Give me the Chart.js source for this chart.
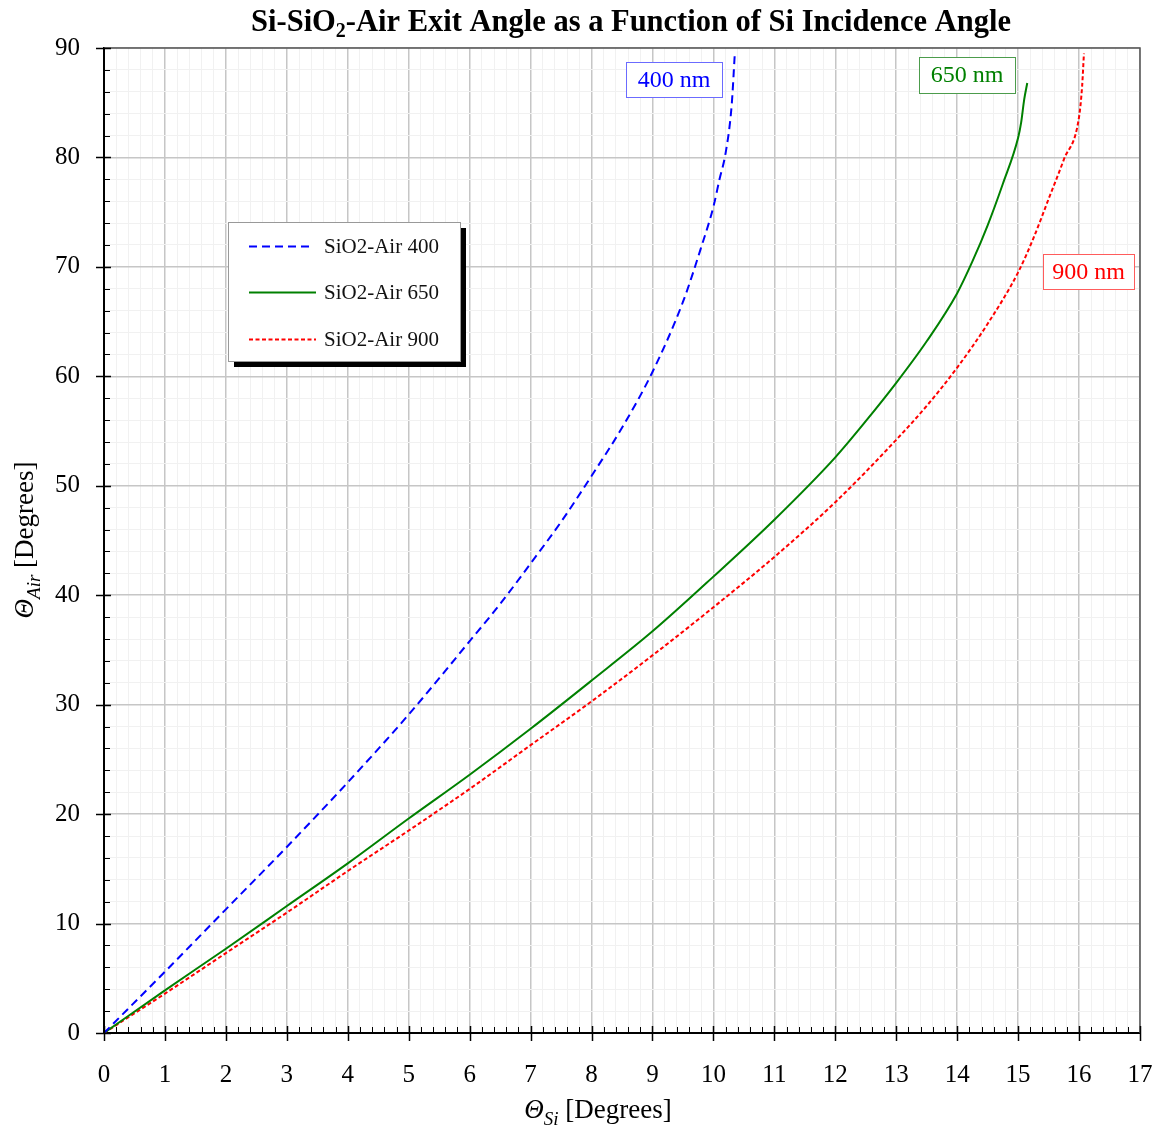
<!DOCTYPE html>
<html>
<head>
<meta charset="utf-8">
<script src="https://cdn.jsdelivr.net/npm/chart.js@4/dist/chart.umd.min.js"></script>
<style>
  html, body { margin: 0; padding: 0; background: #fff; }
  #wrap { width: 1163px; height: 1129px; }
</style>
</head>
<body>
<div id="wrap"><canvas id="c" width="1163" height="1129"></canvas></div>
<script>
// Si incidence angle (deg) and resulting air exit angle (deg), per wavelength
const siAngle400 = [0, 1, 2, 3, 4, 5, 6, 6.5, 7, 7.5, 8, 8.5, 9, 9.5, 9.8, 10, 10.1, 10.2, 10.3, 10.35];
const airAngle400 = [0, 5.6, 11.3, 17.0, 22.9, 29.1, 35.8, 39.2, 42.9, 46.7, 50.9, 55.3, 60.4, 66.8, 71.8, 75.5, 78.0, 80.4, 84.8, 89.4];

const siAngle650 = [0, 1, 2, 3, 4, 5, 6, 7, 8, 9, 10, 11, 12, 12.5, 13, 13.5, 14, 14.25, 14.5, 14.75, 15, 15.05, 15.1, 15.15];
const airAngle650 = [0, 3.9, 7.7, 11.6, 15.5, 19.6, 23.6, 27.8, 32.2, 36.7, 41.7, 46.9, 52.6, 55.9, 59.4, 63.2, 67.6, 70.5, 73.8, 77.6, 81.8, 83.2, 85.3, 86.8];

const siAngle900 = [0, 1, 2, 3, 4, 5, 6, 7, 8, 9, 10, 11, 12, 13, 13.5, 14, 14.5, 15, 15.25, 15.5, 15.75, 16, 16.05, 16.08];
const airAngle900 = [0, 3.6, 7.3, 11.0, 14.8, 18.5, 22.3, 26.3, 30.3, 34.5, 38.9, 43.5, 48.5, 54.2, 57.3, 60.8, 64.8, 69.5, 72.6, 76.2, 79.8, 83.7, 86.5, 89.5];

const seriesNames = ['SiO2-Air 400', 'SiO2-Air 650', 'SiO2-Air 900'];
const curveTags = ['400 nm', '650 nm', '900 nm'];

const X_MIN = 0, X_MAX = 17, X_STEP = 0.2;
const Y_MIN = 0, Y_MAX = 90, Y_STEP = 2;

const pts = (xs, ys) => xs.map((x, i) => ({ x: x, y: ys[i] }));
const isWhole = (v, unit) => Math.abs(v / unit - Math.round(v / unit)) < 1e-6;

const SERIF = '"Liberation Serif", "Times New Roman", serif';

// draw a run of text pieces (with sub-scripts) centred on x
function drawRun(ctx, parts, cx, cy) {
  let total = 0;
  parts.forEach(p => { ctx.font = p.font; p.w = ctx.measureText(p.text).width; total += p.w; });
  let x = cx - total / 2;
  ctx.textAlign = 'left';
  ctx.textBaseline = 'alphabetic';
  parts.forEach(p => {
    ctx.font = p.font;
    ctx.fillStyle = p.color || '#000';
    ctx.fillText(p.text, x, cy + (p.dy || 0));
    x += p.w;
  });
}

const decor = {
  id: 'decor',
  beforeDraw(chart) {
    const ctx = chart.ctx;
    ctx.save();
    ctx.fillStyle = '#fff';
    ctx.fillRect(0, 0, chart.width, chart.height);
    ctx.restore();
  },
  afterDraw(chart) {
    const ctx = chart.ctx;
    const a = chart.chartArea;
    const xs = chart.scales.x, ys = chart.scales.y;
    ctx.save();

    // frame on top and right
    ctx.strokeStyle = '#555';
    ctx.lineWidth = 1.5;
    ctx.beginPath();
    ctx.moveTo(a.left, a.top); ctx.lineTo(a.right, a.top); ctx.lineTo(a.right, a.bottom);
    ctx.stroke();

    // tick marks
    ctx.strokeStyle = '#000';
    for (let v = X_MIN; v <= X_MAX + 1e-9; v += X_STEP) {
      const px = Math.round(xs.getPixelForValue(v)) + 0.5;
      ctx.beginPath();
      if (isWhole(v, 1)) { ctx.lineWidth = 1.5; ctx.moveTo(px, a.bottom - 7); ctx.lineTo(px, a.bottom + 8); }
      else { ctx.lineWidth = 1; ctx.moveTo(px, a.bottom); ctx.lineTo(px, a.bottom - 6); }
      ctx.stroke();
    }
    for (let v = Y_MIN; v <= Y_MAX + 1e-9; v += Y_STEP) {
      const py = Math.round(ys.getPixelForValue(v)) + 0.5;
      ctx.beginPath();
      if (isWhole(v, 10)) { ctx.lineWidth = 1.5; ctx.moveTo(a.left - 8, py); ctx.lineTo(a.left + 7, py); }
      else { ctx.lineWidth = 1; ctx.moveTo(a.left, py); ctx.lineTo(a.left + 6, py); }
      ctx.stroke();
    }

    // legend box with drop shadow
    const lx = 228, ly = 222, lw = 232, lh = 139;
    ctx.fillStyle = '#000';
    ctx.fillRect(lx + 6, ly + 6, lw, lh);
    ctx.fillStyle = '#fff';
    ctx.fillRect(lx, ly, lw, lh);
    ctx.strokeStyle = '#999';
    ctx.lineWidth = 1;
    ctx.strokeRect(lx + 0.5, ly + 0.5, lw, lh);
    const rows = [246, 292, 339];
    chart.data.datasets.forEach((ds, i) => {
      ctx.strokeStyle = ds.borderColor;
      ctx.lineWidth = 2;
      ctx.setLineDash(ds.borderDash || []);
      ctx.beginPath();
      ctx.moveTo(249, rows[i] + 0.5);
      ctx.lineTo(i === 0 ? 312 : 316, rows[i] + 0.5);
      ctx.stroke();
      ctx.setLineDash([]);
      ctx.fillStyle = '#111';
      ctx.font = '21px ' + SERIF;
      ctx.textAlign = 'left';
      ctx.textBaseline = 'middle';
      ctx.fillText(ds.label, 324, rows[i] + 1);
    });

    // wavelength tags near the curve ends
    const tags = [
      { box: [626, 62, 96, 35], color: '#0000ff', edge: '#6b6bff' },
      { box: [919, 57, 96, 36], color: '#008000', edge: '#4c9c4c' },
      { box: [1043, 254, 91, 35], color: '#ff0000', edge: '#ff5c5c' }
    ];
    tags.forEach((t, i) => {
      const [bx, by, bw, bh] = t.box;
      ctx.fillStyle = '#fff';
      ctx.fillRect(bx, by, bw, bh);
      ctx.strokeStyle = t.edge;
      ctx.lineWidth = 1;
      ctx.strokeRect(bx + 0.5, by + 0.5, bw, bh);
      ctx.fillStyle = t.color;
      ctx.font = '24px ' + SERIF;
      ctx.textAlign = 'center';
      ctx.textBaseline = 'middle';
      ctx.fillText(curveTags[i], bx + bw / 2, by + bh / 2 + 1);
    });

    // chart title
    const tf = 'bold 30.5px ' + SERIF, tfs = 'bold 20px ' + SERIF;
    drawRun(ctx, [
      { text: 'Si-SiO', font: tf },
      { text: '2', font: tfs, dy: 6 },
      { text: '-Air Exit Angle as a Function of Si Incidence Angle', font: tf }
    ], 631, 31);

    // x axis title
    const af = '27px ' + SERIF, ai = 'italic 27px ' + SERIF, asub = 'italic 19px ' + SERIF;
    drawRun(ctx, [
      { text: 'Θ', font: ai },
      { text: 'Si', font: asub, dy: 7 },
      { text: ' [Degrees]', font: af }
    ], 598, 1118);

    // y axis title
    ctx.translate(33, 540);
    ctx.rotate(-Math.PI / 2);
    drawRun(ctx, [
      { text: 'Θ', font: ai },
      { text: 'Air', font: asub, dy: 7 },
      { text: ' [Degrees]', font: af }
    ], 0, 0);

    ctx.restore();
  }
};

const gridColor = (unit) => (c) => (c.tick && isWhole(c.tick.value, unit)) ? '#c6c6c6' : '#f1f1f1';
const gridWidth = (unit) => (c) => (c.tick && isWhole(c.tick.value, unit)) ? 1.5 : 1;

new Chart(document.getElementById('c'), {
  type: 'line',
  data: {
    datasets: [
      { label: seriesNames[0], data: pts(siAngle400, airAngle400), borderColor: '#0000ff', borderWidth: 2, borderDash: [8, 5] },
      { label: seriesNames[1], data: pts(siAngle650, airAngle650), borderColor: '#008000', borderWidth: 2, borderDash: [] },
      { label: seriesNames[2], data: pts(siAngle900, airAngle900), borderColor: '#ff0000', borderWidth: 2, borderDash: [4, 2.5] }
    ]
  },
  options: {
    responsive: false,
    animation: false,
    devicePixelRatio: 1,
    layout: { padding: { left: 0, right: 23, top: 48, bottom: 0 } },
    elements: {
      point: { radius: 0, hoverRadius: 0 },
      line: { cubicInterpolationMode: 'monotone', fill: false }
    },
    plugins: { legend: { display: false }, title: { display: false }, tooltip: { enabled: false } },
    scales: {
      x: {
        type: 'linear', min: X_MIN, max: X_MAX,
        afterFit(s) { s.height = 96; s.paddingLeft = 0; s.paddingRight = 0; },
        ticks: {
          stepSize: X_STEP, autoSkip: false, maxTicksLimit: 200, maxRotation: 0, padding: 27,
          color: '#000', font: { family: SERIF, size: 25 },
          callback: (v) => isWhole(v, 1) ? String(Math.round(v)) : ''
        },
        grid: { color: gridColor(1), lineWidth: gridWidth(1), drawTicks: false },
        border: { color: '#000', width: 2 }
      },
      y: {
        type: 'linear', min: Y_MIN, max: Y_MAX,
        afterFit(s) { s.width = 104; s.paddingTop = 0; s.paddingBottom = 0; },
        ticks: {
          stepSize: Y_STEP, autoSkip: false, maxTicksLimit: 200, padding: 24,
          color: '#000', font: { family: SERIF, size: 25 },
          callback: (v) => isWhole(v, 10) ? String(Math.round(v)) : ''
        },
        grid: { color: gridColor(10), lineWidth: gridWidth(10), drawTicks: false },
        border: { color: '#000', width: 2 }
      }
    }
  },
  plugins: [decor]
});
</script>
</body>
</html>
